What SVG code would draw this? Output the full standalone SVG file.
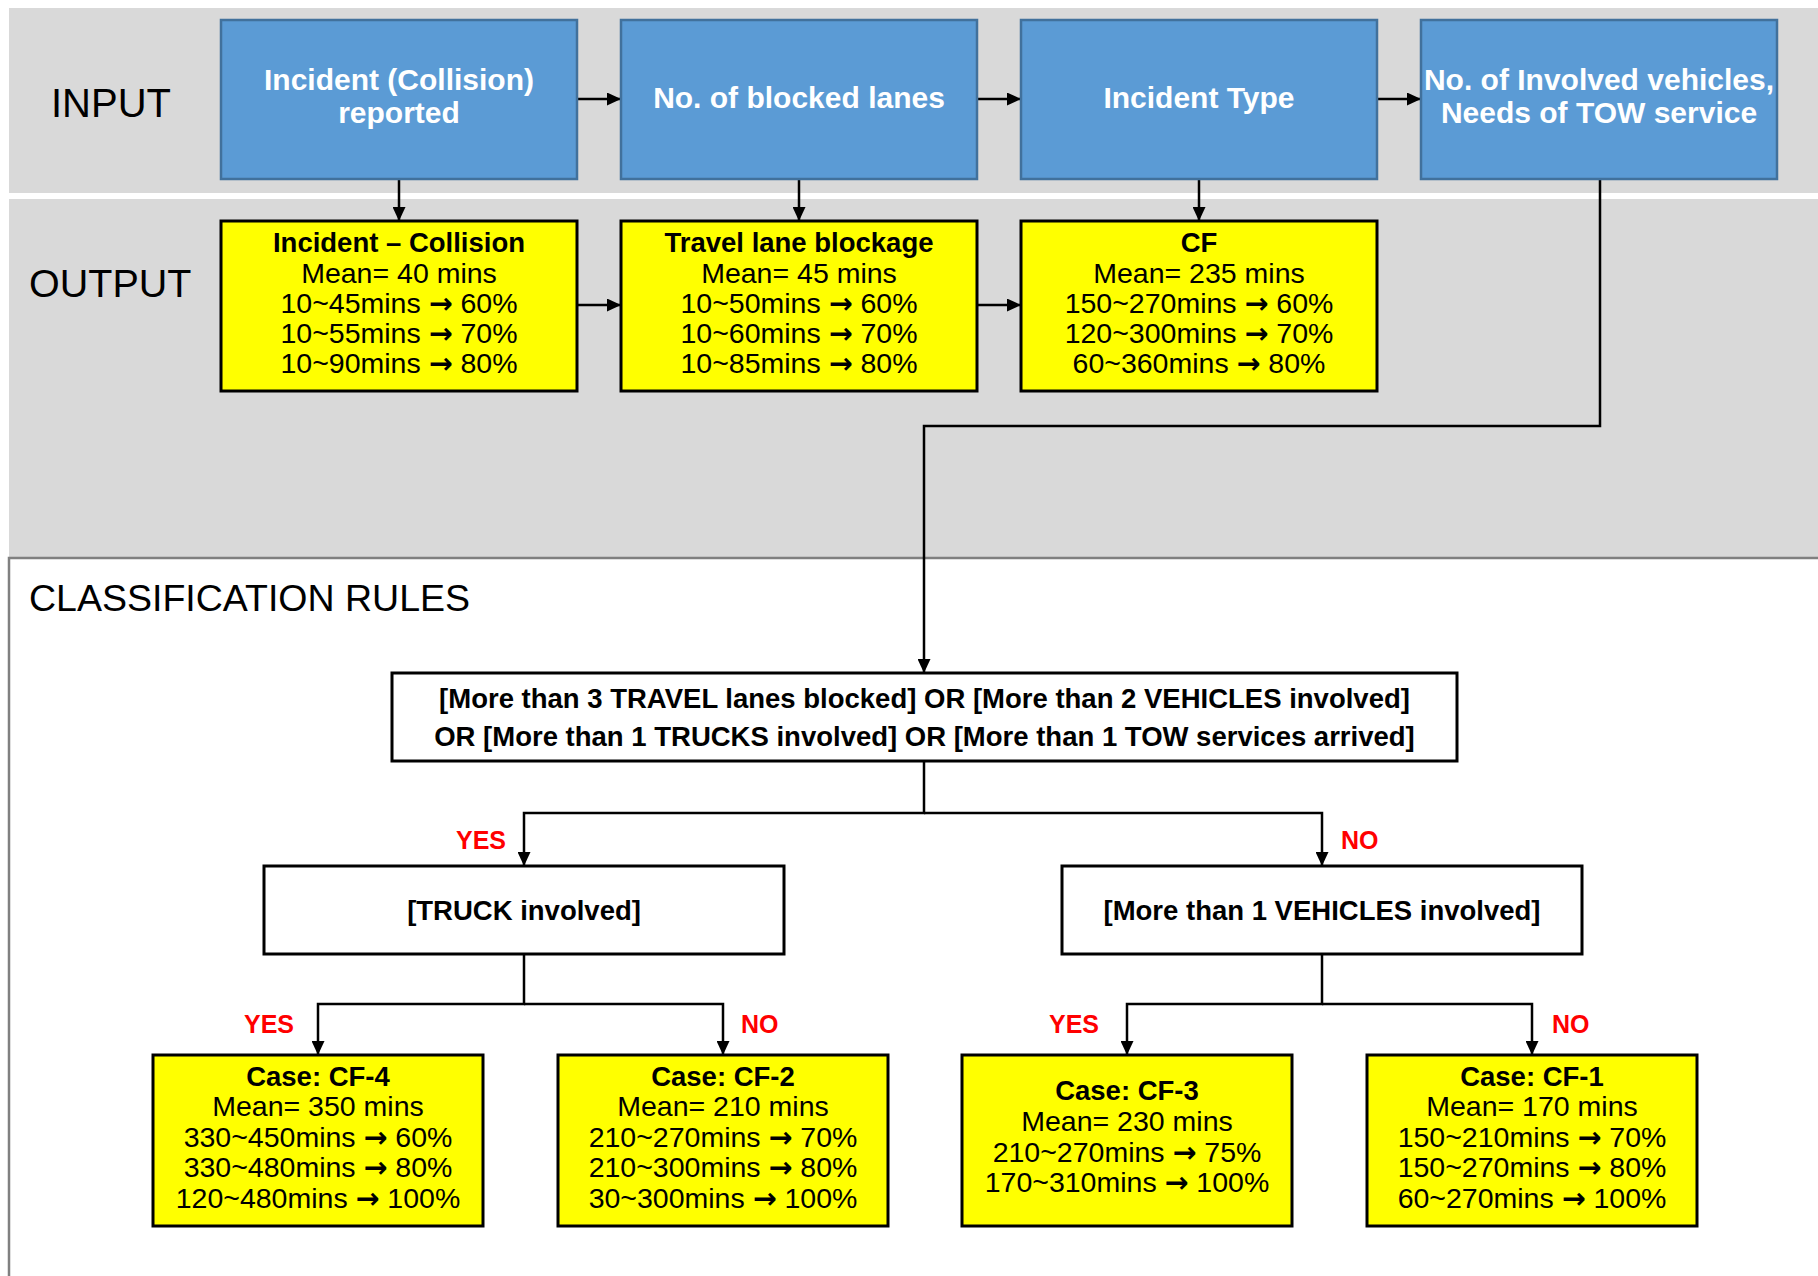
<svg xmlns="http://www.w3.org/2000/svg" width="1818" height="1276" viewBox="0 0 1818 1276">
<defs>
<marker id="ah" viewBox="0 0 14 13" refX="14" refY="6.5" markerWidth="14" markerHeight="13" markerUnits="userSpaceOnUse" orient="auto">
<path d="M0,0 L14,6.5 L0,13 Z" fill="#000"/>
</marker>
<style>
text{font-family:"Liberation Sans",Arial,sans-serif;}
.band{fill:#D9D9D9;}
.blue{fill:#5B9BD5;stroke:#41719C;stroke-width:2.5;}
.yel{fill:#FFFF00;stroke:#000;stroke-width:3;}
.rule{fill:#FFFFFF;stroke:#000;stroke-width:3;}
.bt{fill:#FFFFFF;font-weight:bold;font-size:30px;text-anchor:middle;}
.hd{fill:#000;font-weight:bold;font-size:27.5px;text-anchor:middle;}
.tx{fill:#000;font-size:28.5px;text-anchor:middle;}
.ar{font-family:"DejaVu Sans",sans-serif;font-weight:bold;}
.sec{fill:#000;font-size:40px;}
.lab{fill:#FF0000;font-weight:bold;font-size:25px;}
.arr{fill:none;stroke:#000;stroke-width:2.5;marker-end:url(#ah);}
</style>
</defs>
<rect width="1818" height="1276" fill="#FFFFFF"/>
<g id="bands">
<rect class="band" x="9" y="8" width="1809" height="185"/>
<rect class="band" x="9" y="199" width="1809" height="358"/>
<rect x="9" y="558" width="1820" height="730" fill="#FFFFFF" stroke="#808080" stroke-width="2.5"/>
<text class="sec" x="51" y="117" style="font-size:40px">INPUT</text>
<text class="sec" x="29" y="297" style="font-size:39.5px">OUTPUT</text>
<text class="sec" x="29" y="611" style="font-size:37.5px">CLASSIFICATION RULES</text>
</g>
<g id="connectors">
<path class="arr" d="M577,99 H621"/>
<path class="arr" d="M977,99 H1021"/>
<path class="arr" d="M1377,99 H1421"/>
<path class="arr" d="M399,179 V221"/>
<path class="arr" d="M799,179 V221"/>
<path class="arr" d="M1199,179 V221"/>
<path class="arr" d="M577,305 H621"/>
<path class="arr" d="M977,305 H1021"/>
<path class="arr" d="M1600,179 V426 H924 V673"/>
<path class="arr" d="M924,761 V813 H524 V866"/>
<path class="arr" d="M924,813 H1322 V866"/>
<path class="arr" d="M524,954 V1004 H318 V1055"/>
<path class="arr" d="M524,1004 H723 V1055"/>
<path class="arr" d="M1322,954 V1004 H1127 V1055"/>
<path class="arr" d="M1322,1004 H1532 V1055"/>
<text class="lab" x="506" y="849" text-anchor="end">YES</text>
<text class="lab" x="1341" y="849">NO</text>
<text class="lab" x="294" y="1033" text-anchor="end">YES</text>
<text class="lab" x="741" y="1033">NO</text>
<text class="lab" x="1099" y="1033" text-anchor="end">YES</text>
<text class="lab" x="1552" y="1033">NO</text>
</g>
<g id="in1">
<rect class="blue" x="221" y="20" width="356" height="159"/>
<text class="bt" x="399" y="90">Incident (Collision)</text>
<text class="bt" x="399" y="123">reported</text>
</g>
<g id="in2">
<rect class="blue" x="621" y="20" width="356" height="159"/>
<text class="bt" x="799" y="108">No. of blocked lanes</text>
</g>
<g id="in3">
<rect class="blue" x="1021" y="20" width="356" height="159"/>
<text class="bt" x="1199" y="108">Incident Type</text>
</g>
<g id="in4">
<rect class="blue" x="1421" y="20" width="356" height="159"/>
<text class="bt" x="1599" y="90">No. of Involved vehicles,</text>
<text class="bt" x="1599" y="123">Needs of TOW service</text>
</g>
<g id="out1">
<rect class="yel" x="221" y="221" width="356" height="170"/>
<text class="hd" x="399" y="252">Incident – Collision</text>
<text class="tx" x="399" y="283">Mean= 40 mins</text>
<text class="tx" x="399" y="313">10~45mins <tspan class="ar">→</tspan> 60%</text>
<text class="tx" x="399" y="343">10~55mins <tspan class="ar">→</tspan> 70%</text>
<text class="tx" x="399" y="373">10~90mins <tspan class="ar">→</tspan> 80%</text>
</g>
<g id="out2">
<rect class="yel" x="621" y="221" width="356" height="170"/>
<text class="hd" x="799" y="252">Travel lane blockage</text>
<text class="tx" x="799" y="283">Mean= 45 mins</text>
<text class="tx" x="799" y="313">10~50mins <tspan class="ar">→</tspan> 60%</text>
<text class="tx" x="799" y="343">10~60mins <tspan class="ar">→</tspan> 70%</text>
<text class="tx" x="799" y="373">10~85mins <tspan class="ar">→</tspan> 80%</text>
</g>
<g id="out3">
<rect class="yel" x="1021" y="221" width="356" height="170"/>
<text class="hd" x="1199" y="252">CF</text>
<text class="tx" x="1199" y="283">Mean= 235 mins</text>
<text class="tx" x="1199" y="313">150~270mins <tspan class="ar">→</tspan> 60%</text>
<text class="tx" x="1199" y="343">120~300mins <tspan class="ar">→</tspan> 70%</text>
<text class="tx" x="1199" y="373">60~360mins <tspan class="ar">→</tspan> 80%</text>
</g>
<g id="rule">
<rect class="rule" x="392" y="673" width="1065" height="88"/>
<text class="hd" x="924.5" y="708">[More than 3 TRAVEL lanes blocked] OR [More than 2 VEHICLES involved]</text>
<text class="hd" x="924.5" y="746">OR [More than 1 TRUCKS involved] OR [More than 1 TOW services arrived]</text>
</g>
<g id="truck">
<rect class="rule" x="264" y="866" width="520" height="88"/>
<text class="hd" x="524" y="920">[TRUCK involved]</text>
</g>
<g id="vehicles">
<rect class="rule" x="1062" y="866" width="520" height="88"/>
<text class="hd" x="1322" y="920">[More than 1 VEHICLES involved]</text>
</g>
<g id="cf4">
<rect class="yel" x="153" y="1055" width="330" height="171"/>
<text class="hd" x="318" y="1086">Case: CF-4</text>
<text class="tx" x="318" y="1116">Mean= 350 mins</text>
<text class="tx" x="318" y="1147">330~450mins <tspan class="ar">→</tspan> 60%</text>
<text class="tx" x="318" y="1177">330~480mins <tspan class="ar">→</tspan> 80%</text>
<text class="tx" x="318" y="1208">120~480mins <tspan class="ar">→</tspan> 100%</text>
</g>
<g id="cf2">
<rect class="yel" x="558" y="1055" width="330" height="171"/>
<text class="hd" x="723" y="1086">Case: CF-2</text>
<text class="tx" x="723" y="1116">Mean= 210 mins</text>
<text class="tx" x="723" y="1147">210~270mins <tspan class="ar">→</tspan> 70%</text>
<text class="tx" x="723" y="1177">210~300mins <tspan class="ar">→</tspan> 80%</text>
<text class="tx" x="723" y="1208">30~300mins <tspan class="ar">→</tspan> 100%</text>
</g>
<g id="cf3">
<rect class="yel" x="962" y="1055" width="330" height="171"/>
<text class="hd" x="1127" y="1100">Case: CF-3</text>
<text class="tx" x="1127" y="1131">Mean= 230 mins</text>
<text class="tx" x="1127" y="1162">210~270mins <tspan class="ar">→</tspan> 75%</text>
<text class="tx" x="1127" y="1192">170~310mins <tspan class="ar">→</tspan> 100%</text>
</g>
<g id="cf1">
<rect class="yel" x="1367" y="1055" width="330" height="171"/>
<text class="hd" x="1532" y="1086">Case: CF-1</text>
<text class="tx" x="1532" y="1116">Mean= 170 mins</text>
<text class="tx" x="1532" y="1147">150~210mins <tspan class="ar">→</tspan> 70%</text>
<text class="tx" x="1532" y="1177">150~270mins <tspan class="ar">→</tspan> 80%</text>
<text class="tx" x="1532" y="1208">60~270mins <tspan class="ar">→</tspan> 100%</text>
</g>
</svg>
